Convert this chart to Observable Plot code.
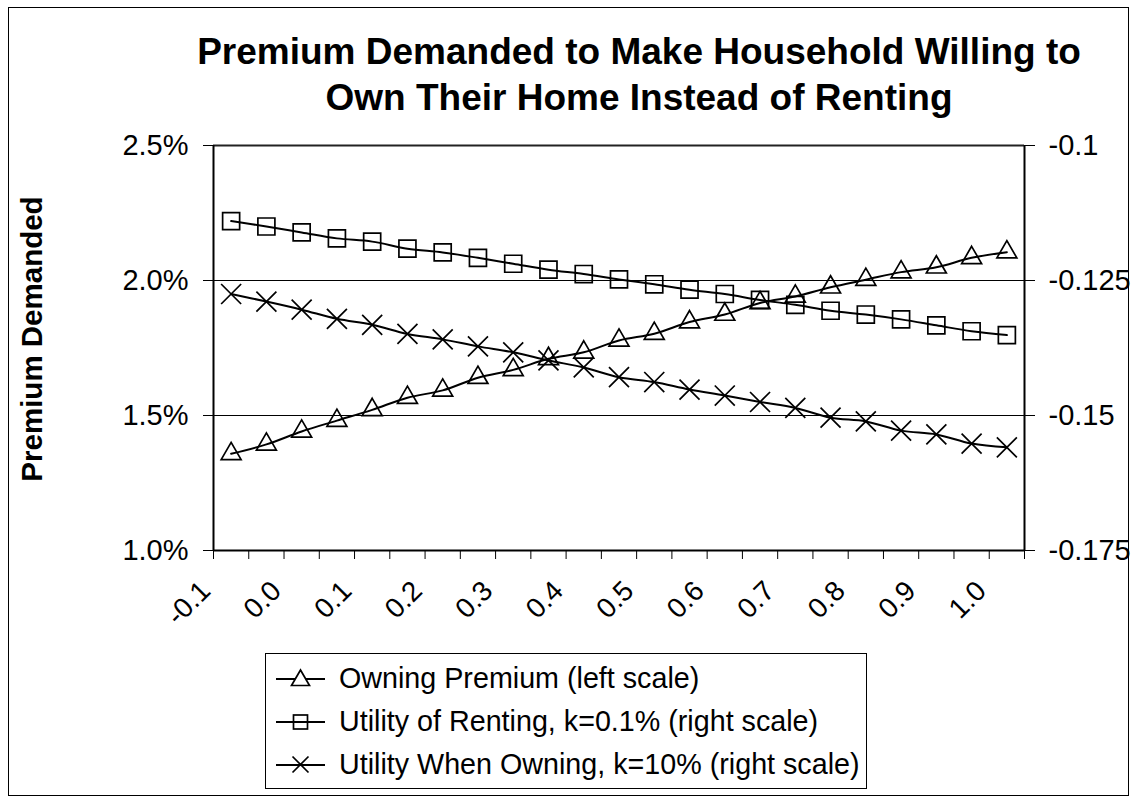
<!DOCTYPE html>
<html>
<head>
<meta charset="utf-8">
<script src="https://cdn.jsdelivr.net/npm/d3@7"></script>
<script src="https://cdn.jsdelivr.net/npm/@observablehq/plot@0.6"></script>
<style>
  html, body { margin: 0; padding: 0; background: #fff; }
  #wrap { position: relative; width: 1138px; height: 800px; background: #fff; font-family: "Liberation Sans", Arial, sans-serif; overflow: hidden; }
  #outer { position: absolute; left: 8px; top: 7px; width: 1121px; height: 789px; border: 1px solid #000; box-sizing: border-box; }
  #chart { position: absolute; left: 0; top: 0; }
  #title { position: absolute; left: 0; width: 1138px; top: 29px; text-align: center; font-weight: bold; font-size: 37px; line-height: 46px; color: #000; padding-left: 140px; box-sizing: border-box; }
  #ytitle { position: absolute; left: 32px; top: 339px; transform: translate(-50%, -50%) rotate(-90deg); font-weight: bold; font-size: 29.5px; white-space: nowrap; }
  #legend { position: absolute; left: 265px; top: 653px; border: 1px solid #000; background: #fff; padding: 3px 6px 2px 10px; }
  .row { display: flex; align-items: center; height: 43px; font-size: 28.7px; white-space: nowrap; }
  .row svg { margin-right: 14px; }
</style>
</head>
<body>
<div id="wrap">
  <div id="outer"></div>
  <div id="chart"></div>
  <div id="title">Premium Demanded to Make Household Willing to<br>Own Their Home Instead of Renting</div>
  <div id="ytitle">Premium Demanded</div>
  <div id="legend"></div>
</div>
<script>
// ---- data ----
const xValues = [-0.1, -0.05, 0, 0.05, 0.1, 0.15, 0.2, 0.25, 0.3, 0.35, 0.4, 0.45, 0.5, 0.55, 0.6, 0.65, 0.7, 0.75, 0.8, 0.85, 0.9, 0.95, 1.0];
const owningPremium = [1.358, 1.393, 1.441, 1.481, 1.521, 1.566, 1.593, 1.640, 1.669, 1.710, 1.734, 1.778, 1.803, 1.846, 1.874, 1.917, 1.941, 1.975, 2.003, 2.031, 2.049, 2.084, 2.105];
const utilityRenting = [-0.1140, -0.1150, -0.1161, -0.1172, -0.1178, -0.1191, -0.1198, -0.1208, -0.1219, -0.1230, -0.1238, -0.1248, -0.1257, -0.1267, -0.1275, -0.1286, -0.1295, -0.1306, -0.1313, -0.1322, -0.1333, -0.1344, -0.1351];
const utilityOwning = [-0.1275, -0.1289, -0.1304, -0.1321, -0.1332, -0.1349, -0.1359, -0.1372, -0.1383, -0.1398, -0.1411, -0.1429, -0.1438, -0.1452, -0.1463, -0.1475, -0.1486, -0.1504, -0.1511, -0.1528, -0.1535, -0.1552, -0.1559];
const seriesNames = ["Owning Premium (left scale)", "Utility of Renting, k=0.1% (right scale)", "Utility When Owning, k=10% (right scale)"];
const seriesSymbols = ["triangle", "square", "times"];

const xTickValues = [-0.1, 0.0, 0.1, 0.2, 0.3, 0.4, 0.5, 0.6, 0.7, 0.8, 0.9, 1.0];
const xTickLabels = ["-0.1", "0.0", "0.1", "0.2", "0.3", "0.4", "0.5", "0.6", "0.7", "0.8", "0.9", "1.0"];
const leftTicks = [1.0, 1.5, 2.0, 2.5];
const leftLabels = ["1.0%", "1.5%", "2.0%", "2.5%"];
const rightTicks = [-0.175, -0.15, -0.125, -0.1];
const rightLabels = ["-0.175", "-0.15", "-0.125", "-0.1"];
const leftDomain = [1.0, 2.5];
const rightDomain = [-0.175, -0.1];

// map right-axis values onto the left scale
const toLeft = v => leftDomain[0] + (v - rightDomain[0]) / (rightDomain[1] - rightDomain[0]) * (leftDomain[1] - leftDomain[0]);

const step = xValues[1] - xValues[0];
const xDomain = [xValues[0] - step / 2, xValues[xValues.length - 1] + step / 2];
const boundaries = xValues.map(v => v - step / 2).concat([xValues[xValues.length - 1] + step / 2]);

const rows = [];
xValues.forEach((x, i) => {
  rows.push({x, y: owningPremium[i], s: 0});
  rows.push({x, y: toLeft(utilityRenting[i]), s: 1});
  rows.push({x, y: toLeft(utilityOwning[i]), s: 2});
});

const font = '"Liberation Sans", Arial, sans-serif';
const rightMap = new Map(rightTicks.map((t, i) => [toLeft(t).toFixed(6), rightLabels[i]]));
const leftMap = new Map(leftTicks.map((t, i) => [t.toFixed(6), leftLabels[i]]));

const symR = [7.4, 9.6, 9.15];

const marks = [
  Plot.ruleY([1.5, 2.0], {stroke: "#000", strokeWidth: 1}),
  Plot.ruleY([2.5], {stroke: "#222", strokeWidth: 2}),
  Plot.axisY({anchor: "left", ticks: leftTicks, tickSize: 10, tickPadding: 15, tickFormat: d => leftMap.get(d.toFixed(6)), fontSize: 29, fontFamily: font, label: null, stroke: "#000"}),
  Plot.axisY({anchor: "right", ticks: rightTicks.map(toLeft), tickSize: 10, tickPadding: 14, tickFormat: d => rightMap.get(d.toFixed(6)), fontSize: 29, fontFamily: font, label: null}),
  Plot.axisX({ticks: boundaries, tickSize: 9, tickFormat: () => "", label: null}),
  Plot.text(xTickValues, {x: d => d, text: (d, i) => xTickLabels[i], frameAnchor: "bottom", rotate: -45, textAnchor: "end", dx: -19, dy: 42, fontSize: 28, fontFamily: font, fill: "#000"}),
  Plot.ruleX([xDomain[0], xDomain[1]], {stroke: "#000", strokeWidth: 2}),
  Plot.ruleY([1.0], {stroke: "#000", strokeWidth: 2})
];
[0, 1, 2].forEach(s => {
  const d = rows.filter(r => r.s === s);
  marks.push(Plot.line(d, {x: "x", y: "y", curve: "catmull-rom", stroke: "#000", strokeWidth: 2}));
  marks.push(Plot.dot(d, {x: "x", y: "y", symbol: seriesSymbols[s], r: symR[s], stroke: "#000", strokeWidth: 1.7, fill: "none"}));
});

const chart = Plot.plot({
  width: 1138,
  height: 800,
  marginLeft: 213,
  marginRight: 114,
  marginTop: 145,
  marginBottom: 250,
  x: {domain: xDomain, axis: null},
  y: {domain: leftDomain, axis: null},
  style: {fontFamily: font, fontSize: "29px", color: "#000", background: "transparent", overflow: "visible"},
  marks
});
document.getElementById("chart").appendChild(chart);

// legend
const legend = document.getElementById("legend");
const symbolSvg = s => {
  const line = '<line x1="0" y1="12" x2="49" y2="12" stroke="#000" stroke-width="2"/>';
  let m = "";
  if (s === "triangle") m = '<polygon points="24.5,3 33.5,18.5 15.5,18.5" fill="#fff" stroke="#000" stroke-width="1.7"/>';
  if (s === "square") m = '<rect x="17.5" y="5" width="14" height="14" fill="none" stroke="#000" stroke-width="1.7"/>';
  if (s === "times") m = '<path d="M16.5,3.5L32.5,19.5M16.5,19.5L32.5,3.5" stroke="#000" stroke-width="1.7"/>';
  return '<svg width="49" height="24" viewBox="0 0 49 24">' + line + m + '</svg>';
};
seriesNames.forEach((name, i) => {
  const row = document.createElement("div");
  row.className = "row";
  row.innerHTML = symbolSvg(seriesSymbols[i]) + '<span>' + name + '</span>';
  legend.appendChild(row);
});
</script>
</body>
</html>
